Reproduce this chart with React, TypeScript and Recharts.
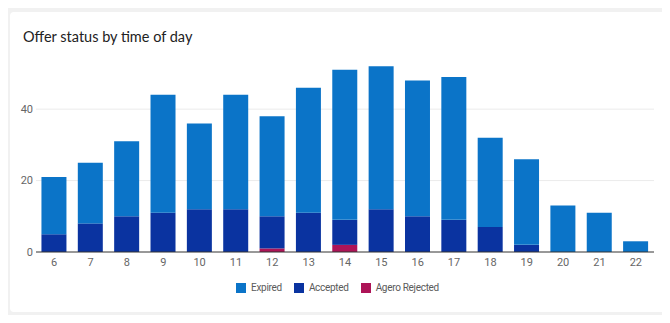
import React from "react";
import { BarChart, Bar, XAxis, YAxis, CartesianGrid } from "recharts";

const hours = ["6", "7", "8", "9", "10", "11", "12", "13", "14", "15", "16", "17", "18", "19", "20", "21", "22"];
const expired = [16, 17, 21, 33, 24, 32, 28, 35, 42, 40, 38, 40, 25, 24, 13, 11, 3];
const accepted = [5, 8, 10, 11, 12, 12, 9, 11, 7, 12, 10, 9, 7, 2, 0, 0, 0];
const rejected = [0, 0, 0, 0, 0, 0, 1, 0, 2, 0, 0, 0, 0, 0, 0, 0, 0];
const yTicks = [0, 20, 40];
const gridValues = [20, 40];
const title = "Offer status by time of day";

const series = [
  { key: "expired", name: "Expired", color: "#0b74c8" },
  { key: "accepted", name: "Accepted", color: "#0a33a0" },
  { key: "rejected", name: "Agero Rejected", color: "#ad1457" },
];

const data = hours.map((h, i) => ({
  hour: h,
  expired: expired[i],
  accepted: accepted[i],
  rejected: rejected[i],
}));

const stackOrder = ["rejected", "accepted", "expired"];

export default function App() {
  return (
    <div
      style={{
        position: "relative",
        margin: -8,
        width: 670,
        height: 323,
        background: "#f1f1f1",
        overflow: "hidden",
        fontFamily: "Roboto, sans-serif",
      }}
    >
      <div
        style={{
          position: "absolute",
          left: 10,
          top: 12,
          width: 655,
          height: 300,
          background: "#ffffff",
          borderRadius: 4,
        }}
      />
      <div style={{ position: "absolute", left: 0, top: 0 }}>
        <BarChart
          width={670}
          height={323}
          data={data}
          margin={{ top: 2, right: 16, left: 0, bottom: 41 }}
          barCategoryGap="15%"
        >
          <CartesianGrid vertical={false} stroke="#ebebeb" horizontalValues={gridValues} />
          <XAxis
            dataKey="hour"
            height={30}
            tickLine={false}
            tickSize={0}
            tickMargin={6}
            axisLine={{ stroke: "#333333" }}
            tick={{ fill: "#666666", fontSize: 11 }}
            interval={0}
          />
          <YAxis
            width={36}
            domain={[0, 70]}
            ticks={yTicks}
            tickLine={false}
            axisLine={false}
            tickSize={0}
            tickMargin={3}
            tick={{ fill: "#666666", fontSize: 11 }}
          />
          {stackOrder.map((k) => {
            const s = series.find((x) => x.key === k)!;
            return (
              <Bar
                key={k}
                dataKey={k}
                name={s.name}
                stackId="a"
                fill={s.color}
                isAnimationActive={false}
              />
            );
          })}
        </BarChart>
      </div>
      <div
        style={{
          position: "absolute",
          left: 11,
          top: 24,
          width: 653,
          height: 24,
          paddingLeft: 12,
          paddingTop: 4,
          boxSizing: "border-box",
          background: "#ffffff",
          fontFamily: "Lato, sans-serif",
          fontSize: 14.5,
          lineHeight: "17px",
          color: "#222",
          whiteSpace: "nowrap",
        }}
      >
        {title}
      </div>
      <div
        style={{
          position: "absolute",
          top: 282,
          left: 0,
          width: 675,
          display: "flex",
          justifyContent: "center",
          fontSize: 10,
          letterSpacing: "-0.3px",
          color: "#5a5a5a",
          fontFamily: "Roboto, sans-serif",
        }}
      >
        {series.map((s) => (
          <div key={s.key} style={{ display: "flex", alignItems: "center", margin: "0 6px" }}>
            <span
              style={{
                display: "inline-block",
                width: 10,
                height: 10,
                background: s.color,
                marginRight: 5,
              }}
            />
            <span>{s.name}</span>
          </div>
        ))}
      </div>
    </div>
  );
}
